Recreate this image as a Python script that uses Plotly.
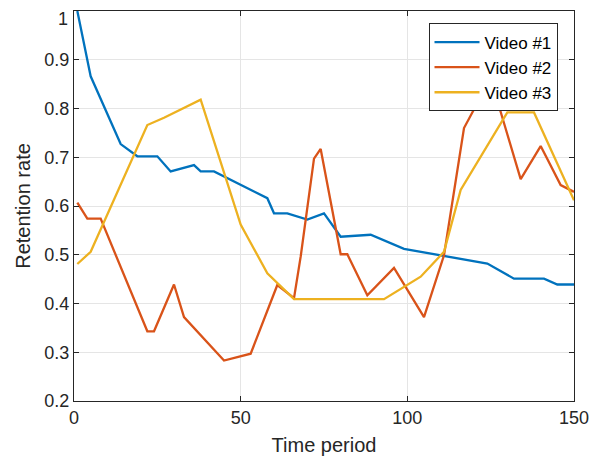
import plotly.graph_objects as go

t1 = [1, 5, 14, 19, 25, 29, 36, 38, 42, 58, 60, 64, 70, 75, 80, 89, 99, 110, 124, 132, 141, 145, 150]
v1 = [1.0, 0.866, 0.727, 0.702, 0.702, 0.671, 0.684, 0.671, 0.671, 0.616, 0.585, 0.585, 0.572, 0.585,
      0.537, 0.541, 0.512, 0.499, 0.482, 0.451, 0.451, 0.439, 0.439]

t2 = [1, 4, 8, 22, 24, 30, 33, 45, 53, 61, 66, 68, 72, 74, 80, 82, 88, 96, 105, 111, 117, 125, 134, 140, 146, 150]
v2 = [0.607, 0.574, 0.574, 0.343, 0.343, 0.439, 0.372, 0.283, 0.297, 0.438, 0.411, 0.496, 0.697, 0.717,
      0.501, 0.501, 0.417, 0.473, 0.372, 0.499, 0.760, 0.862, 0.655, 0.723, 0.643, 0.629]

t3 = [1, 5, 22, 27, 38, 50, 58, 66, 93, 104, 111, 116, 130, 138, 150]
v3 = [0.481, 0.506, 0.766, 0.781, 0.818, 0.562, 0.462, 0.409, 0.409, 0.455, 0.506, 0.633, 0.792, 0.792, 0.612]

x_ticks = [0, 50, 100, 150]
y_ticks = [0.2, 0.3, 0.4, 0.5, 0.6, 0.7, 0.8, 0.9, 1.0]
y_labels = ["0.2", "0.3", "0.4", "0.5", "0.6", "0.7", "0.8", "0.9", "1"]

names = ["Video #1", "Video #2", "Video #3"]
colors = ["#0072BD", "#D95319", "#EDB120"]

fig = go.Figure()
for t, v, n, c in zip([t1, t2, t3], [v1, v2, v3], names, colors):
    fig.add_trace(go.Scatter(x=t, y=v, mode="lines", name=n,
                             line=dict(color=c, width=2.3)))

axis_common = dict(
    showline=True, linecolor="#262626", linewidth=1, mirror="ticks",
    ticks="inside", ticklen=5, tickcolor="#262626",
    showgrid=True, gridcolor="#E5E5E5", gridwidth=1,
    zeroline=False, tickfont=dict(size=18, color="#262626"),
    automargin=False,
)

# the top tick label is nudged down (as in the reference) so it is drawn as an annotation
shown_labels = y_labels[:-1] + [""]

# page body has an 8px default margin; figure is sized to fit the 602x462 window
fig.update_layout(
    width=594, height=454,
    margin=dict(l=66, r=28, t=3, b=61),
    paper_bgcolor="white", plot_bgcolor="white",
    font=dict(family="Liberation Sans, Arial, sans-serif", color="#262626"),
    xaxis=dict(range=[0, 150], tickvals=x_ticks,
               title=dict(text="Time period", font=dict(size=20), standoff=11), **axis_common),
    yaxis=dict(range=[0.2, 1.0], tickvals=y_ticks, ticktext=shown_labels,
               title=dict(text="Retention rate", font=dict(size=20), standoff=8), **axis_common),
    legend=dict(x=0.709, y=0.968, xanchor="left", yanchor="top",
                bgcolor="white", bordercolor="#262626", borderwidth=1,
                font=dict(size=17, color="black"), tracegroupgap=0,
                itemwidth=45),
    showlegend=True,
)

fig.add_annotation(x=0, xref="paper", y=y_ticks[-1], yref="y", text=y_labels[-1],
                   showarrow=False, xanchor="right", yanchor="top", borderpad=0,
                   xshift=-5, yshift=3, font=dict(size=18, color="#262626"))

fig.write_html("out.html")
